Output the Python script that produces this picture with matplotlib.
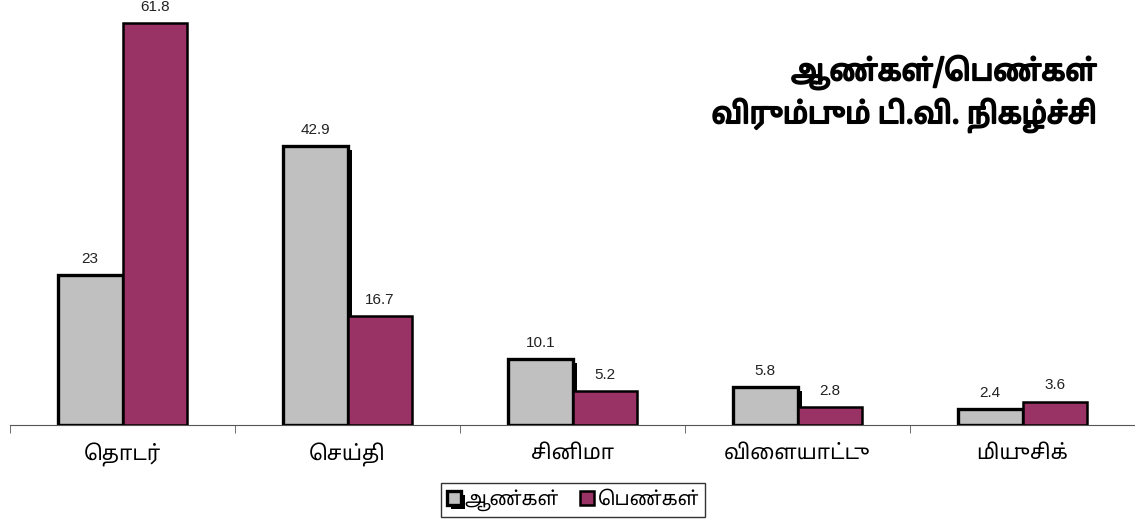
import matplotlib
matplotlib.use('Agg')
import matplotlib.pyplot as plt
from matplotlib import patheffects
import numpy as np

categories = ['தொடர்', 'செய்தி', 'சினிமா', 'விளையாட்டு', 'மியுசிக்']
men = [23, 42.9, 10.1, 5.8, 2.4]
women = [61.8, 16.7, 5.2, 2.8, 3.6]
series_names = ['ஆண்கள்', 'பெண்கள்']
title = 'ஆண்கள்/பெண்கள்\nவிரும்பும் டி.வி. நிகழ்ச்சி'

TAMIL = ['Noto Sans Tamil', 'DejaVu Sans']
plt.rcParams['font.family'] = TAMIL


def visual(s):
    # matplotlib does no shaping, so put the left-hand vowel signs before their consonant
    out = []
    for ch in s:
        if ch in '\u0BC6\u0BC7\u0BC8' and out:
            out.insert(len(out) - 1, ch)
        elif ch == '\u0BCA' and out:
            out.insert(len(out) - 1, '\u0BC6')
            out.append('\u0BBE')
        elif ch == '\u0BCB' and out:
            out.insert(len(out) - 1, '\u0BC7')
            out.append('\u0BBE')
        elif ch == '\u0BCC' and out:
            out.insert(len(out) - 1, '\u0BC6')
            out.append('\u0BD7')
        else:
            out.append(ch)
    return ''.join(out)


fig = plt.figure(figsize=(11.35, 5.21), dpi=100)
ax = fig.add_axes([10 / 1135, 96 / 521, 1 - 10 / 1135, 425 / 521])

x = np.arange(len(categories))
w = 0.287
shadow = [patheffects.SimplePatchShadow(offset=(3, -3), shadow_rgbFace='black', alpha=1),
          patheffects.Normal()]
b1 = ax.bar(x - w / 2, men, w, color='#C0C0C0', edgecolor='black', linewidth=2.4,
            label=visual(series_names[0]), path_effects=shadow, zorder=2)
b2 = ax.bar(x + w / 2, women, w, color='#993366', edgecolor='black', linewidth=1.8,
            label=visual(series_names[1]), zorder=3)

for bars, vals in [(b1, men), (b2, women)]:
    for r, v in zip(bars, vals):
        ax.text(r.get_x() + r.get_width() / 2, v + 1.4, f'{v:g}', ha='center', va='bottom',
                fontsize=11, family='Liberation Sans', color='#222222', clip_on=False)

ax.set_xlim(-0.5, len(categories) - 0.5)
ax.set_ylim(0, 65.3)
for s in ['top', 'right', 'left']:
    ax.spines[s].set_visible(False)
ax.spines['bottom'].set_color('#555555')
ax.set_yticks([])
ax.set_xticks(np.arange(len(categories) + 1) - 0.5, minor=True)
ax.set_xticks(x)
ax.set_xticklabels([visual(c) for c in categories], fontsize=15)
ax.tick_params(axis='x', which='major', length=0, pad=13)
ax.tick_params(axis='x', which='minor', length=6, color='#555555')

bold = [patheffects.withStroke(linewidth=1.4, foreground='black')]
fig.text(1097 / 1135, 1 - 56 / 521, visual(title), ha='right', va='top', fontsize=21,
         linespacing=1.4, path_effects=bold)

leg = fig.legend(loc='center', bbox_to_anchor=(573 / 1135, 1 - 500 / 521), ncol=2,
                 frameon=True, fancybox=False, edgecolor='black', fontsize=14,
                 handlelength=0.7, handleheight=0.7, handletextpad=0.2, columnspacing=1.1,
                 borderpad=0.3)
leg.get_frame().set_linewidth(1)

plt.savefig('out.png')
plt.close()
